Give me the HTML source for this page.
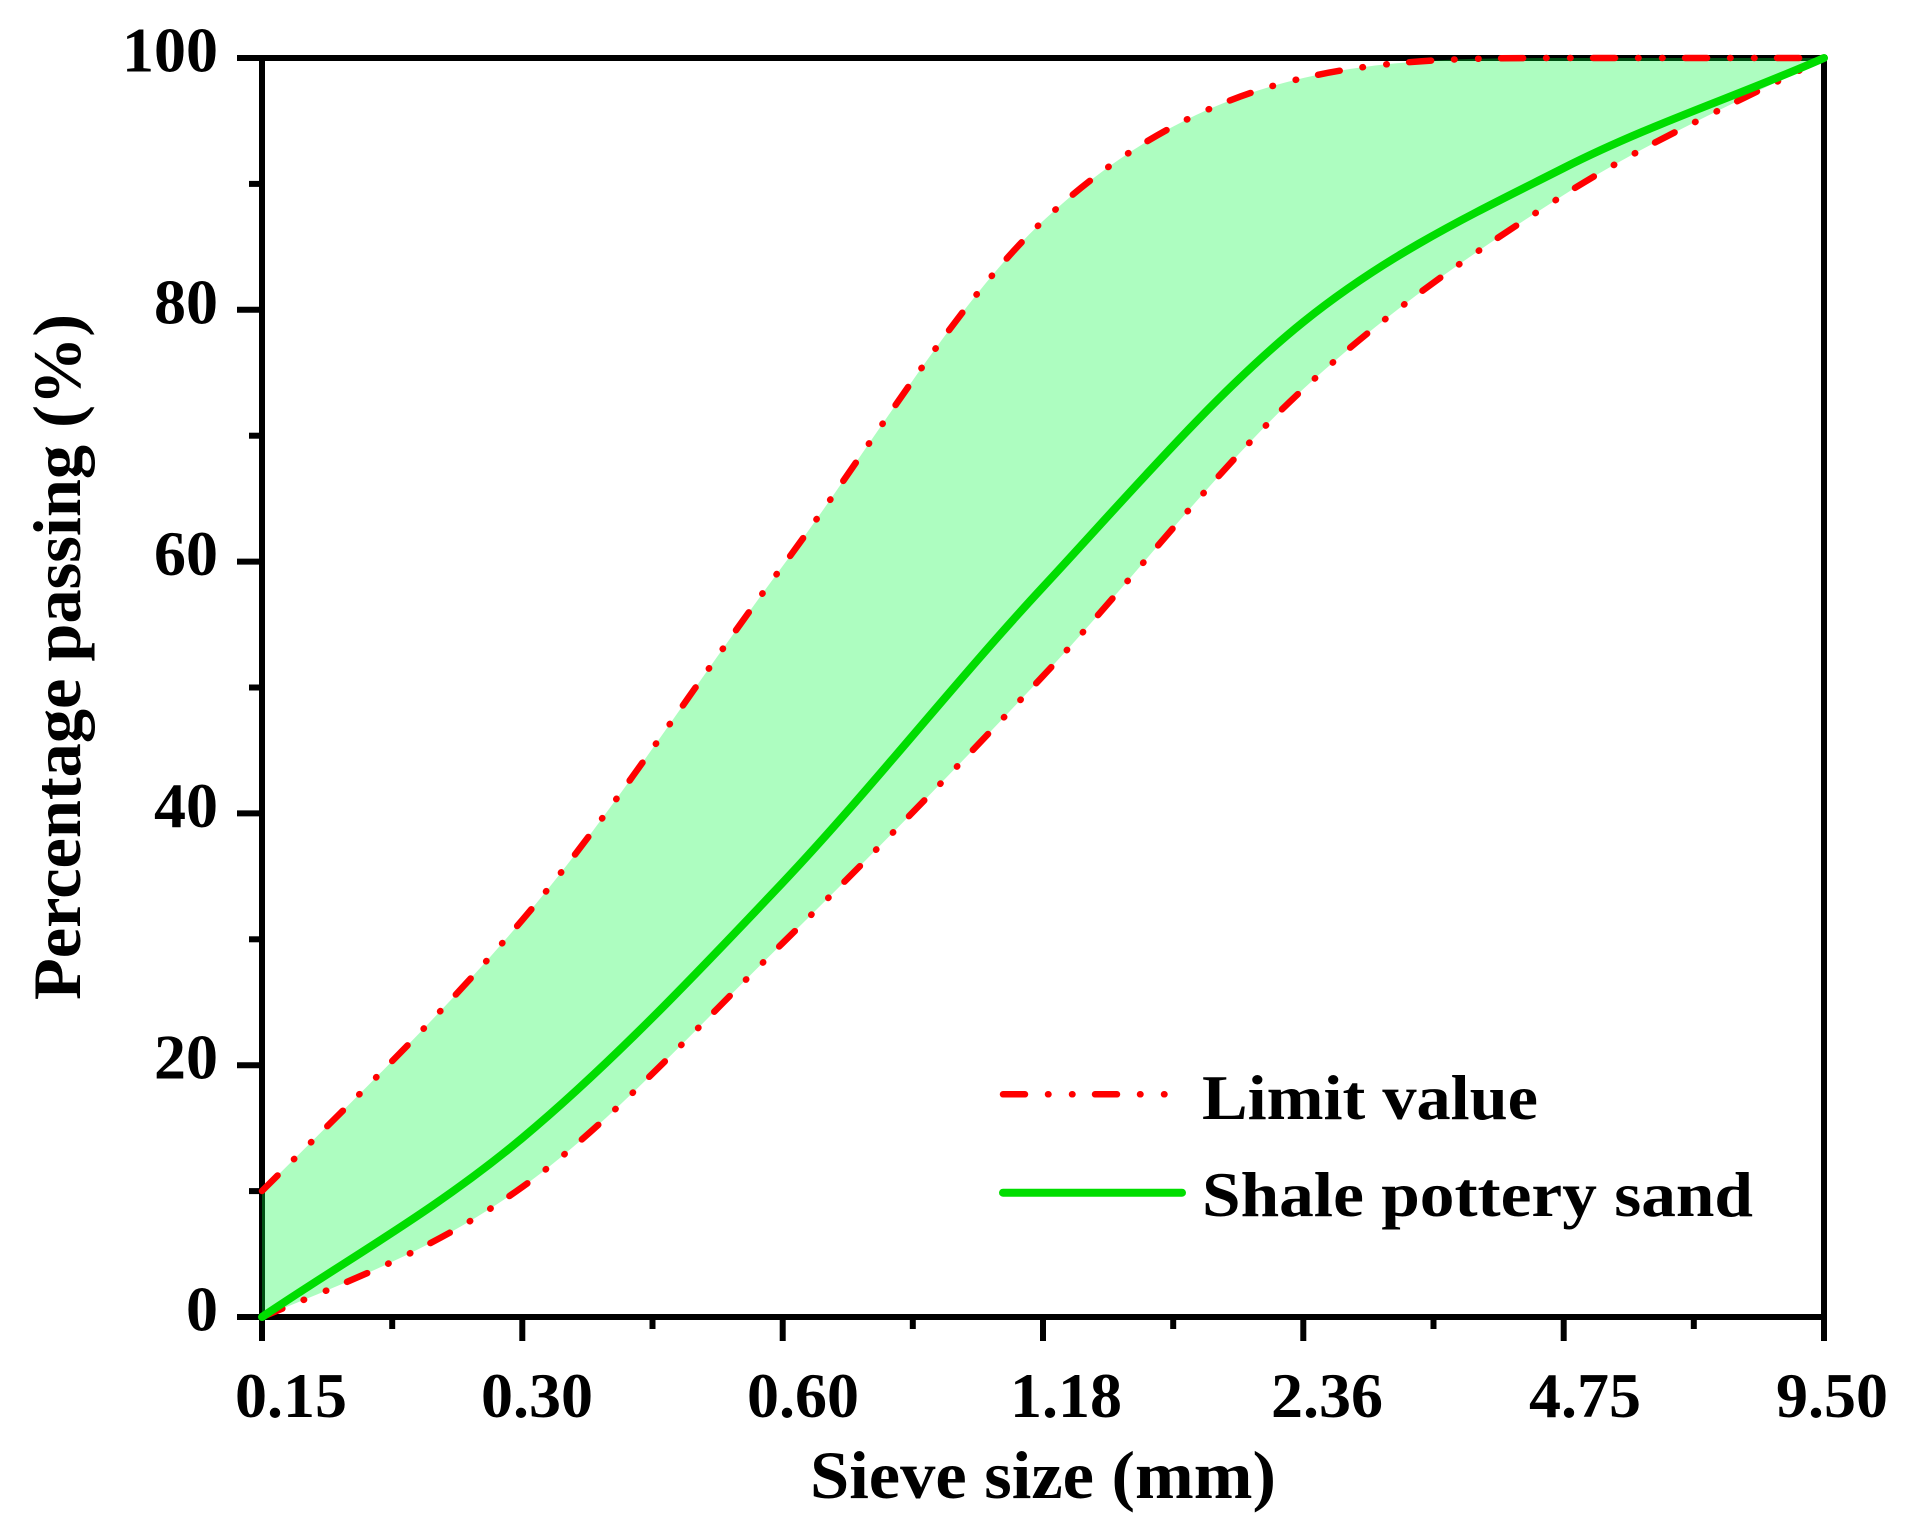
<!DOCTYPE html>
<html>
<head>
<meta charset="utf-8">
<style>
html,body{margin:0;padding:0;background:#fff;}
svg{display:block;}
text{font-family:"Liberation Serif","DejaVu Serif",serif;font-weight:bold;fill:#000;}
</style>
</head>
<body>
<svg width="1912" height="1531" viewBox="0 0 1912 1531" xmlns="http://www.w3.org/2000/svg">
<rect x="0" y="0" width="1912" height="1531" fill="#fff"/>

<!-- axes frame -->
<g stroke="#000" stroke-width="6" fill="none" stroke-linecap="butt">
  <line x1="237" y1="58" x2="1827" y2="58"/>
  <line x1="237" y1="1317" x2="1827" y2="1317"/>
  <line x1="262" y1="55" x2="262" y2="1341"/>
  <line x1="1824" y1="55" x2="1824" y2="1341"/>
  <line x1="237" y1="1065.2" x2="262" y2="1065.2"/>
  <line x1="237" y1="813.4" x2="262" y2="813.4"/>
  <line x1="237" y1="561.6" x2="262" y2="561.6"/>
  <line x1="237" y1="309.8" x2="262" y2="309.8"/>
  <line x1="249" y1="1191.1" x2="262" y2="1191.1"/>
  <line x1="249" y1="939.3" x2="262" y2="939.3"/>
  <line x1="249" y1="687.5" x2="262" y2="687.5"/>
  <line x1="249" y1="435.7" x2="262" y2="435.7"/>
  <line x1="249" y1="183.9" x2="262" y2="183.9"/>
  <line x1="522.3" y1="1317" x2="522.3" y2="1341"/>
  <line x1="782.7" y1="1317" x2="782.7" y2="1341"/>
  <line x1="1043" y1="1317" x2="1043" y2="1341"/>
  <line x1="1303.3" y1="1317" x2="1303.3" y2="1341"/>
  <line x1="1563.7" y1="1317" x2="1563.7" y2="1341"/>
  <line x1="392.2" y1="1317" x2="392.2" y2="1329"/>
  <line x1="652.5" y1="1317" x2="652.5" y2="1329"/>
  <line x1="912.8" y1="1317" x2="912.8" y2="1329"/>
  <line x1="1173.2" y1="1317" x2="1173.2" y2="1329"/>
  <line x1="1433.5" y1="1317" x2="1433.5" y2="1329"/>
  <line x1="1693.8" y1="1317" x2="1693.8" y2="1329"/>
</g>

<!-- fill between limits -->
<path fill="#00fa3c" fill-opacity="0.32" stroke="none" d="M262,1191 C348.8,1104.3 435.5,1021.7 522.3,920 C609.1,818.3 695.9,682.5 782.7,566 C869.5,449.5 956.2,302.3 1043,221 C1129.8,139.7 1216.5,98 1303.3,78 C1390.1,58 1476.9,58 1563.7,58 L1824,58 C1737.2,103 1650.5,139.8 1563.7,195 C1476.9,250.2 1390.1,308.8 1303.3,389 C1216.5,469.2 1129.8,583.7 1043,676 C956.2,768.3 869.5,857.8 782.7,943 C695.9,1028.2 609.1,1124.7 522.3,1187 C435.5,1249.3 348.8,1281 262,1317 Z"/>

<!-- upper limit -->
<path fill="none" stroke="#ff0000" stroke-width="6.5" stroke-linecap="round" stroke-linejoin="round" stroke-dasharray="22 23 0.5 23.5 0.5 22.5" d="M262,1191 C348.8,1104.3 435.5,1021.7 522.3,920 C609.1,818.3 695.9,682.5 782.7,566 C869.5,449.5 956.2,302.3 1043,221 C1129.8,139.7 1216.5,98 1303.3,78 C1390.1,58 1476.9,58 1563.7,58 L1824,58"/>

<!-- lower limit -->
<path fill="none" stroke="#ff0000" stroke-width="6.5" stroke-linecap="round" stroke-linejoin="round" stroke-dasharray="22 23 0.5 23.5 0.5 22.5" d="M262,1317 C348.8,1281 435.5,1249.3 522.3,1187 C609.1,1124.7 695.9,1028.2 782.7,943 C869.5,857.8 956.2,768.3 1043,676 C1129.8,583.7 1216.5,469.2 1303.3,389 C1390.1,308.8 1476.9,250.2 1563.7,195 C1650.5,139.8 1737.2,103 1824,58"/>

<!-- shale pottery sand -->
<path fill="none" stroke="#00dd00" stroke-width="8" stroke-linecap="round" stroke-linejoin="round" d="M262,1317 C348.8,1258.3 435.5,1210.4 522.3,1138 C609.1,1065.6 695.9,974.4 782.7,882.6 C869.5,790.8 956.2,680.4 1043,587 C1129.8,493.6 1216.5,391.8 1303.3,322 C1390.1,252.2 1476.9,212 1563.7,168 C1650.5,124 1737.2,96.3 1824,58"/>

<!-- y tick labels -->
<g font-size="64" text-anchor="end">
  <text x="218" y="71.5">100</text>
  <text x="218" y="323.3">80</text>
  <text x="218" y="575">60</text>
  <text x="218" y="827">40</text>
  <text x="218" y="1078.7">20</text>
  <text x="218" y="1330.5">0</text>
</g>

<!-- x tick labels -->
<g font-size="64" text-anchor="middle">
  <text x="291" y="1417">0.15</text>
  <text x="537" y="1417">0.30</text>
  <text x="803" y="1417">0.60</text>
  <text x="1066" y="1417">1.18</text>
  <text x="1327" y="1417">2.36</text>
  <text x="1585" y="1417">4.75</text>
  <text x="1832" y="1417">9.50</text>
</g>

<!-- axis titles -->
<text x="810" y="1498" font-size="68" textLength="466" lengthAdjust="spacingAndGlyphs">Sieve size (mm)</text>
<text transform="translate(80,1000) rotate(-90)" x="0" y="0" font-size="68" textLength="686" lengthAdjust="spacingAndGlyphs">Percentage passing (%)</text>

<!-- legend -->
<line x1="1003" y1="1094.3" x2="1165" y2="1094.3" stroke="#ff0000" stroke-width="6.5" stroke-linecap="round" stroke-dasharray="22 23 0.5 23.5 0.5 22.5"/>
<line x1="1003" y1="1192.7" x2="1182" y2="1192.7" stroke="#00dd00" stroke-width="8" stroke-linecap="round"/>
<text x="1202" y="1119" font-size="64" textLength="336" lengthAdjust="spacingAndGlyphs">Limit value</text>
<text x="1202" y="1216" font-size="64" textLength="551" lengthAdjust="spacingAndGlyphs">Shale pottery sand</text>
</svg>
</body>
</html>
